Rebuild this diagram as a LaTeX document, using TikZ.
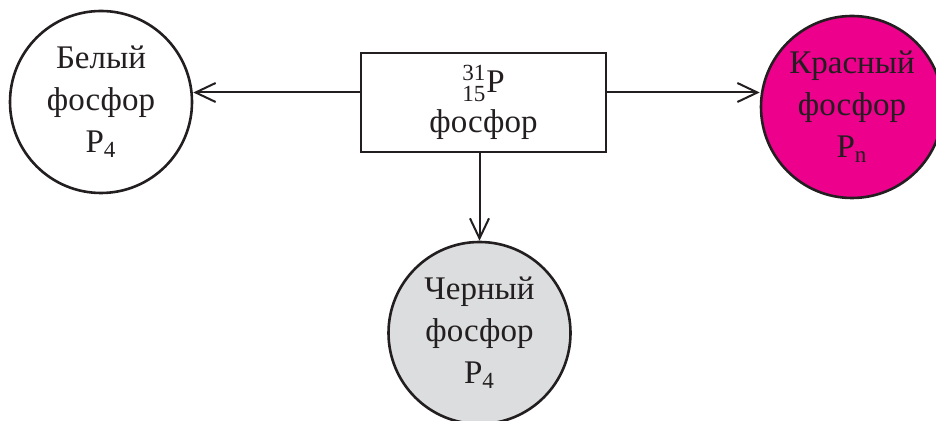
\documentclass[tikz,border=0pt]{standalone}
\usepackage{amsmath}
\usepackage{fontspec}
\setmainfont{Liberation Serif}
\usetikzlibrary{arrows.meta,positioning}
\definecolor{inkdark}{HTML}{231F20}
\definecolor{redphos}{HTML}{EC008C}
\definecolor{blackphos}{HTML}{DCDDDE}

\begin{document}
\begin{tikzpicture}[x=0.5pt,y=-0.5pt,
  allotrope/.style={circle,draw=inkdark,line width=1.3pt,minimum size=91pt,inner sep=0pt,
    align=center,text=inkdark,font=\fontsize{16.5}{21}\selectfont},
  element/.style={rectangle,draw=inkdark,line width=1.3pt,minimum width=122.5pt,minimum height=49.5pt,
    inner sep=0pt,align=center,text=inkdark,font=\fontsize{16.5}{20}\selectfont},
  link/.style={draw=inkdark,line width=1pt,-{Straight Barb[length=10pt,width=9.5pt]}}]
\useasboundingbox (0,0) rectangle (936,421);

% Central element
\node[element] (phos) at (483.5,102.5) {${}^{\text{31}}_{\text{15}}$P\\фосфор};

% Allotropes
\node[allotrope,fill=white] (white) at (101,102) {Белый\\фосфор\\P$_{\text{4}}$};
\node[allotrope,fill=redphos] (red) at (852,107) {Красный\\фосфор\\P$_{\text{n}}$};
\node[allotrope,fill=blackphos] (black) at (479.5,333) {Черный\\фосфор\\P$_{\text{4}}$};

% Arrows
\draw[link] ([yshift=5pt]phos.west) -- ([yshift=5pt]phos.west -| white.east);
\draw[link] ([yshift=5pt]phos.east) -- ([yshift=5pt]phos.east -| red.west);
\draw[link] (phos.south -| black.north) -- (black.north);
\end{tikzpicture}
\end{document}
